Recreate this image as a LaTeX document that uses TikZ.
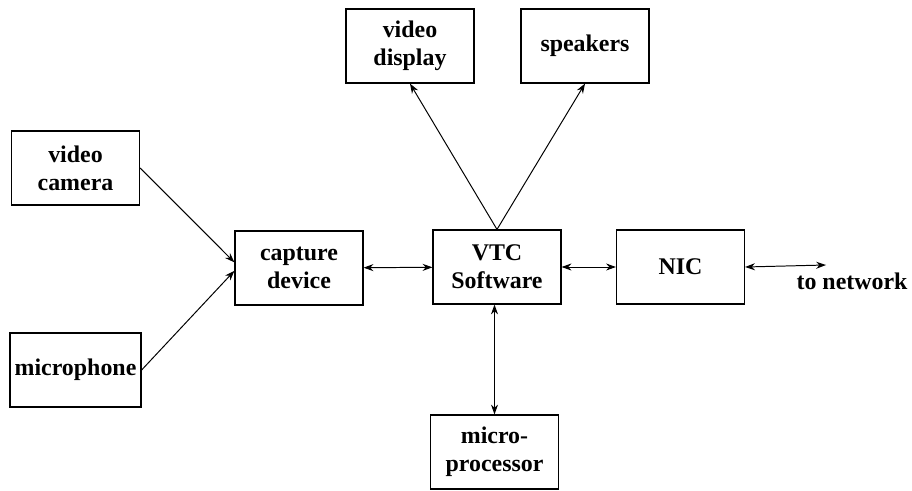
\documentclass[tikz,border=0pt]{standalone}
\usepackage{fontspec}
\setmainfont{Liberation Serif}
\usetikzlibrary{arrows.meta}

\begin{document}
\begin{tikzpicture}[x=0.025cm, y=-0.025cm,
    blk/.style={draw, line width=0.8pt, minimum width=3.2cm, minimum height=1.85cm,
        align=center, font=\fontsize{17}{20}\selectfont\bfseries},
    link/.style={line width=0.7pt, -{Stealth[length=7pt, width=5pt]}},
    both/.style={line width=0.7pt, {Stealth[length=7pt, width=5pt]}-{Stealth[length=7pt, width=5pt]}}]
    \useasboundingbox (0,0) rectangle (912,491);

    % Inputs
    \node[blk] (camera) at (75.5,168) {video\\camera};
    \node[blk] (mic) at (75.5,370) {microphone};
    \node[blk] (capture) at (299,268) {capture\\device};

    % Core software and outputs
    \node[blk] (vtc) at (497,267) {VTC\\Software};
    \node[blk] (display) at (410,46) {video\\display};
    \node[blk] (speakers) at (585,46) {speakers};
    \node[blk] (cpu) at (494.5,452) {micro-\\processor};

    % Network side
    \node[blk] (nic) at (680.5,267) {NIC};
    \coordinate (net) at (826,265);
    \node[font=\fontsize{17}{20}\selectfont\bfseries] (nettxt) at (852,281) {to network};

    \draw[link] (camera.east) -- ([yshift=4]capture.west);
    \draw[link] (mic.east) -- ([yshift=-2]capture.west);
    \draw[both] (capture) -- (vtc);
    \draw[link] (vtc.north) -- (display.south);
    \draw[link] (vtc.north) -- (speakers.south);
    \draw[both] (vtc) -- (nic);
    \draw[both] (vtc.south -| cpu.north) -- (cpu.north);
    \draw[both] (nic.east) -- (net);
\end{tikzpicture}
\end{document}
